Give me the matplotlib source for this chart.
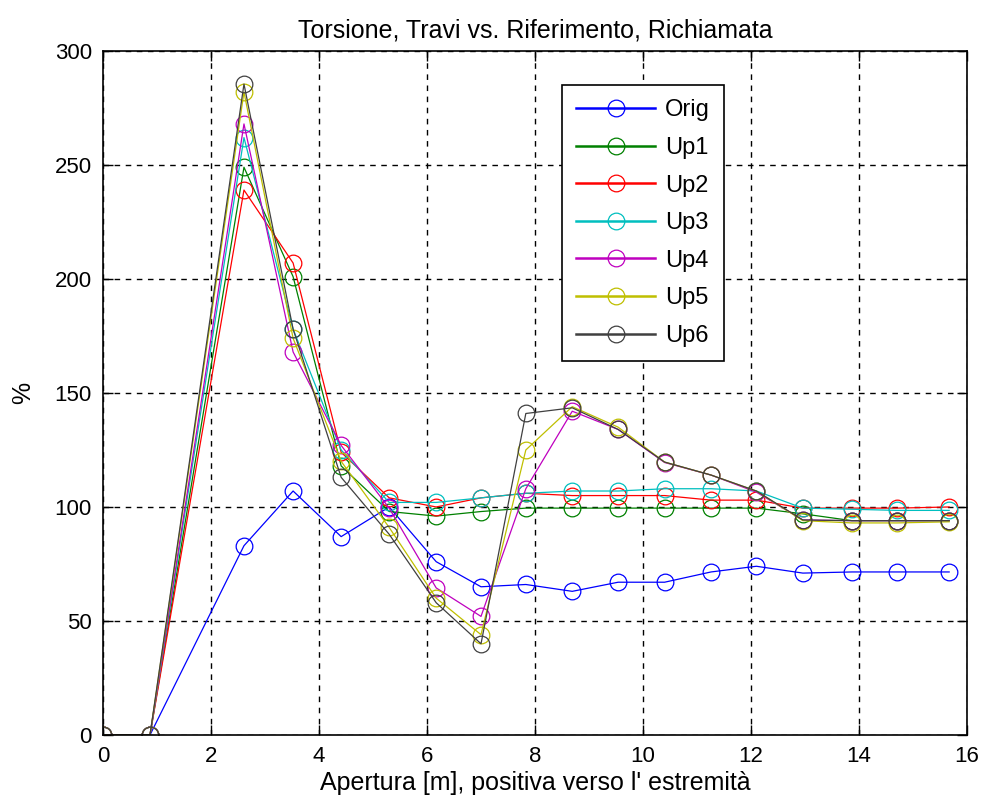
import numpy as np
import matplotlib
matplotlib.use('Agg')
import matplotlib.pyplot as plt

plt.rcParams['font.family'] = ['Liberation Sans', 'DejaVu Sans']

# dati
apertura = [0.0, 0.87, 2.61, 3.52, 4.41, 5.30, 6.17, 7.00, 7.83, 8.69,
            9.54, 10.40, 11.26, 12.10, 12.96, 13.87, 14.70, 15.67]

orig = [0, 0, 83, 107, 87, 100, 76, 65, 66, 63, 67, 67, 71.5, 74, 71, 71.5, 71.5, 71.5]
up1 = [0, 0, 249, 201, 118, 98, 96, 98, 99.5, 99.5, 99.5, 99.5, 99.5, 99.5, 97, 94, 94, 94]
up2 = [0, 0, 239, 207, 124, 104, 100, 104, 106, 105, 105, 105, 103, 103, 99.5, 99.5, 99.5, 100]
up3 = [0, 0, 262, 178, 125, 102, 102, 104, 106, 107, 107, 108, 108, 107, 99.5, 99, 98.5, 98.5]
up4 = [0, 0, 268, 168, 127, 99.5, 64.5, 52, 108, 142, 134, 119.5, 114, 106.5, 94.3, 94, 94, 94]
up5 = [0, 0, 282, 174, 120, 91, 60, 44, 125, 144, 135, 119.7, 114, 107, 94, 93, 93, 93.5]
up6 = [0, 0, 285.5, 178, 113, 88, 58, 40, 141, 143.5, 134, 119.7, 114, 107, 94.3, 94, 94, 94]

nomi = ['Orig', 'Up1', 'Up2', 'Up3', 'Up4', 'Up5', 'Up6']
serie = [orig, up1, up2, up3, up4, up5, up6]
colori = [(0, 0, 1), (0, 0.5, 0), (1, 0, 0), (0, 0.75, 0.75),
          (0.75, 0, 0.75), (0.75, 0.75, 0), (0.25, 0.25, 0.25)]

fig = plt.figure(figsize=(9.86, 8.09), dpi=100)
ax = fig.add_axes([0.1045, 0.0915, 0.8762, 0.8455])

for nome, y, c in zip(nomi, serie, colori):
    ax.plot(apertura, y, '-o', color=c, lw=0.9, markersize=12,
            markerfacecolor='none', markeredgewidth=0.9, label=nome)

ax.set_xlim(0, 16)
ax.set_ylim(0, 300)
ax.set_xticks(np.arange(0, 17, 2))
ax.set_yticks(np.arange(0, 301, 50))
ax.grid(True, color='black', linestyle=(0, (4, 4)), linewidth=1)
ax.tick_params(direction='in', top=True, right=True, length=7, width=1,
               labelsize=16, pad=8)
for s in ax.spines.values():
    s.set_linewidth(1.2)

ax.set_title('Torsione, Travi vs. Riferimento, Richiamata', fontsize=18, pad=10)
ax.set_xlabel("Apertura [m], positiva verso l' estremità", fontsize=18, labelpad=3)
ax.set_ylabel('%', fontsize=18, labelpad=14)

leg = ax.legend(loc='upper left', bbox_to_anchor=(0.531, 0.950), borderaxespad=0,
                fancybox=False, edgecolor='black', framealpha=1, fontsize=17,
                handlelength=3.35, handletextpad=0.42, labelspacing=0.66,
                borderpad=0.6)
leg.get_frame().set_linewidth(1.2)
for h in leg.legend_handles:
    h.set_linewidth(1.8)

fig.savefig('out.png', dpi=100)
